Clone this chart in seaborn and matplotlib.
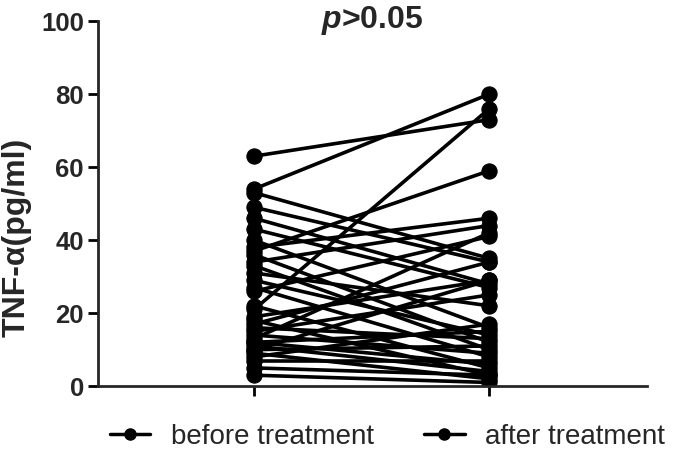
import pandas as pd
import seaborn as sns
import matplotlib.pyplot as plt
from matplotlib.lines import Line2D

# paired TNF-alpha values (pg/ml), one pair per patient
before = [63, 54, 53, 49, 46, 43, 40, 38, 37, 36, 34, 33, 31, 29, 27, 26, 22, 21,
          19, 18, 17, 16, 15, 14, 13, 12, 12, 11, 10, 10, 9, 8, 7, 5, 3]
after = [73, 80, 35, 34, 28, 27, 16, 46, 59, 12, 44, 10, 22, 14, 8, 41, 5, 76,
         29, 3, 34, 13, 25, 9, 42, 6, 15, 4, 29, 11, 2, 17, 7, 3, 1]
groups = ["before treatment", "after treatment"]
y_ticks = [0, 20, 40, 60, 80, 100]

rows = []
for i, (b, a) in enumerate(zip(before, after)):
    rows.append({"subject": i, "pos": 0, "value": b})
    rows.append({"subject": i, "pos": 1, "value": a})
df = pd.DataFrame(rows)

sns.set_style("ticks")
plt.rcParams["font.family"] = ["Liberation Sans", "DejaVu Sans"]
plt.rcParams["mathtext.fontset"] = "custom"
plt.rcParams["mathtext.it"] = "Liberation Sans:bold:italic"
plt.rcParams["mathtext.rm"] = "Liberation Sans:bold"

fig = plt.figure(figsize=(6.85, 4.49), dpi=100)
ax = fig.add_axes([0.143, 0.140, 0.802, 0.813])

sns.lineplot(data=df, x="pos", y="value", units="subject", estimator=None,
             color="black", linewidth=2.6, marker="o", markersize=11,
             markeredgecolor="black", ax=ax, legend=False)

ax.set_xlim(-0.664, 1.672)
ax.set_ylim(0, 100)
ax.set_yticks(y_ticks)
ax.set_yticklabels([str(t) for t in y_ticks], fontsize=18.5, fontweight="bold")
ax.set_xticks([0, 1])
ax.set_xticklabels(["", ""])
ax.set_xlabel("")
ax.set_ylabel("")
ax.tick_params(axis="both", width=2, length=7.2, color="black", pad=3)
for side in ["left", "bottom"]:
    ax.spines[side].set_linewidth(2)
sns.despine(ax=ax)

fig.text(17 / 685, 1 - 237 / 449, "TNF-\u03b1(pg/ml)", rotation=90,
         ha="center", va="center", fontsize=23, fontweight="bold")
fig.text(372 / 685, 1 - 28 / 449, r"$p$>0.05", ha="center", va="baseline",
         fontsize=23, fontweight="bold")

handles = [Line2D([0], [0], color="black", lw=2.5, marker="o", markersize=8)
           for _ in groups]
fig.legend(handles, groups, loc="center", ncol=2, frameon=False,
           fontsize=20, handlelength=1.45, handletextpad=0.75,
           columnspacing=1.8, bbox_to_anchor=(0.566, 0.027))

fig.savefig("out.png", dpi=100)
